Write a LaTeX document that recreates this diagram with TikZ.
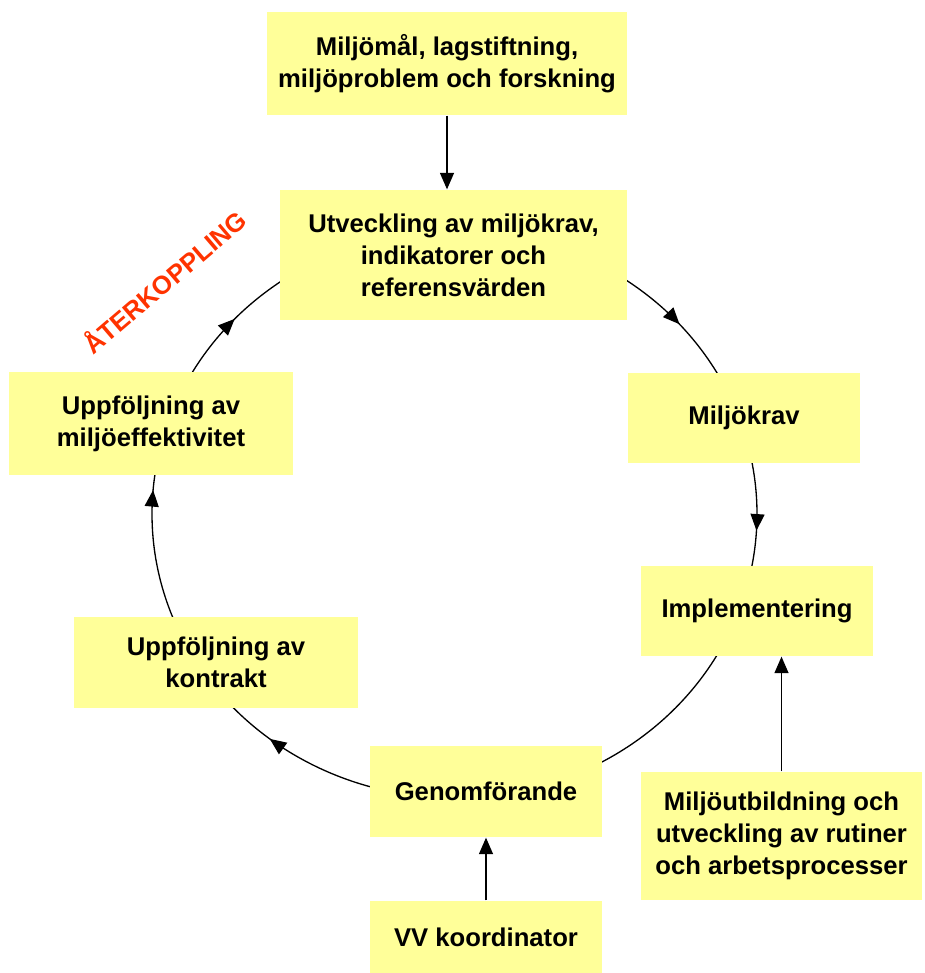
\documentclass[tikz,border=0pt]{standalone}
\usepackage{fontspec}
\setmainfont{Liberation Sans}
\usepackage{tikz}
\usetikzlibrary{arrows.meta,decorations.markings}
\definecolor{boxyellow}{RGB}{255,255,153}
\definecolor{feedred}{RGB}{255,51,0}

\begin{document}
\begin{tikzpicture}[x=0.02cm, y=-0.02cm, line width=0.75pt,
        >={Triangle[length=0.33cm,width=0.28cm]}]
        \tikzstyle{every node}=[fill=boxyellow, inner sep=0pt, align=center,
            font=\fontsize{14.6}{18.3}\selectfont\bfseries]
        \useasboundingbox (0,0) rectangle (924,973);

        % the ring, drawn first so that the boxes cover it
        \draw[postaction=decorate, decoration={markings,
                mark=at position 0.136 with {\arrow{>}},
                mark=at position 0.259 with {\arrow{>}},
                mark=at position 0.607 with {\arrow{>}},
                mark=at position 0.763 with {\arrow{>}},
                mark=at position 0.868 with {\arrow{>}}}]
            plot[domain=-90:270, samples=361] ({454.5+302.5*cos(\x)}, {514+284*sin(\x)});

        \node (mal)   [minimum width=7.2cm,  minimum height=2.06cm] at (447,63.5)  {Miljömål, lagstiftning,\\miljöproblem och forskning};
        \node (utv)   [minimum width=6.94cm, minimum height=2.6cm]  at (453.5,255) {Utveckling av miljökrav,\\indikatorer och\\referensvärden};
        \node (krav)  [minimum width=4.64cm, minimum height=1.8cm]  at (744,418)   {Miljökrav};
        \node (impl)  [minimum width=4.64cm, minimum height=1.8cm]  at (757,611)   {Implementering};
        \node (utb)   [minimum width=5.62cm, minimum height=2.56cm] at (781.5,836) {Miljöutbildning och\\utveckling av rutiner\\och arbetsprocesser};
        \node (genom) [minimum width=4.64cm, minimum height=1.82cm] at (486,791.5) {Genomförande};
        \node (vv)    [minimum width=4.64cm, minimum height=1.44cm] at (486,937)   {VV koordinator};
        \node (uppk)  [minimum width=5.68cm, minimum height=1.82cm] at (216,662.5) {Uppföljning av\\kontrakt};
        \node (uppm)  [minimum width=5.68cm, minimum height=2.06cm] at (151,423.5) {Uppföljning av\\miljöeffektivitet};

        \node (ater)  [fill=none, text=feedred, rotate=40.5] at (164,281) {ÅTERKOPPLING};

        \draw[->] (mal.south) -- (mal.south |- utv.north);
        \draw[->] (vv) -- (genom);
        \draw[->] (utb.north) -- (utb.north |- impl.south);

    \end{tikzpicture}
\end{document}
